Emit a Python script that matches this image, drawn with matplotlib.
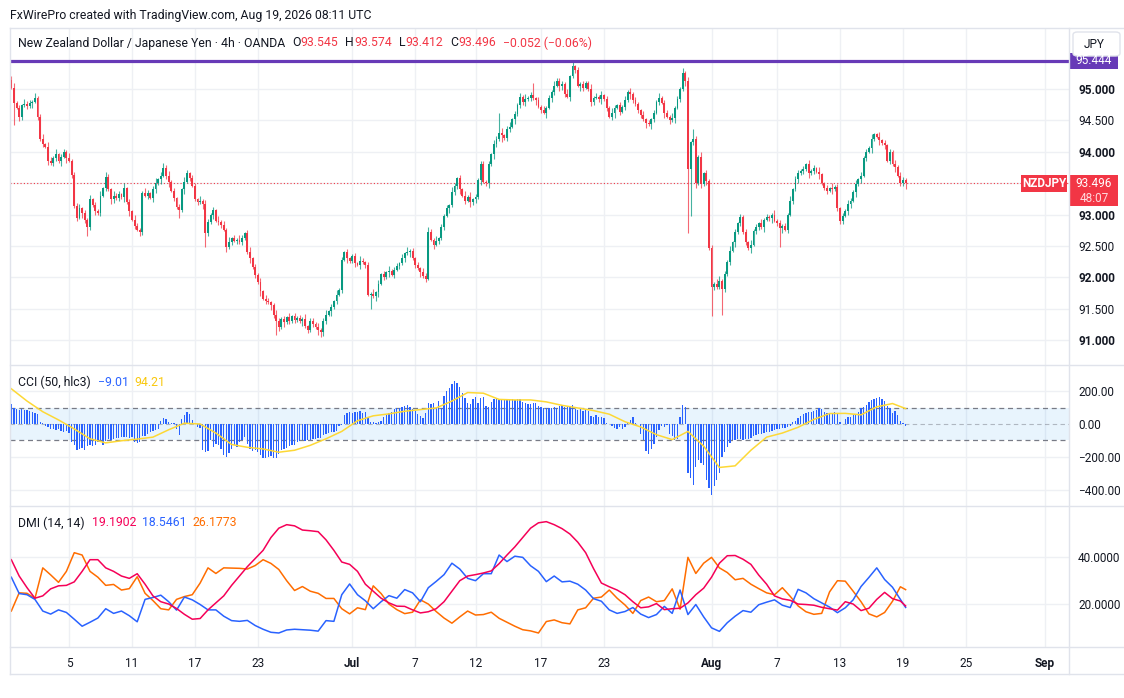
import matplotlib.pyplot as plt
from matplotlib.patches import Rectangle, FancyBboxPatch
from matplotlib.lines import Line2D
import numpy as np
import pandas as pd

W, H = 1124, 698

# ---- price data (4h candles, NZDJPY OANDA) ----
first_open = 95.15
closes = [
    95.02, 94.78, 94.70, 94.56, 94.74, 94.76, 94.73, 94.77, 94.80, 94.86,
    94.55, 94.20, 94.12, 94.08, 93.86, 93.82, 93.90, 93.96, 93.85, 93.92,
    94.00, 93.90, 93.86, 93.63, 93.13, 92.95, 93.10, 93.02, 92.92, 92.80,
    93.24, 93.15, 93.06, 93.02, 93.30, 93.42, 93.60, 93.40, 93.24, 93.30,
    93.26, 93.32, 93.28, 93.42, 93.20, 93.05, 92.92, 92.82, 92.76, 92.72,
    93.35, 93.30, 93.34, 93.27, 93.40, 93.50, 93.56, 93.62, 93.74, 93.62,
    93.52, 93.38, 93.26, 93.12, 93.07, 93.40, 93.52, 93.66, 93.58, 93.46,
    93.24, 93.20, 93.22, 93.16, 92.70, 92.88, 93.00, 93.07, 92.90, 92.88,
    92.84, 92.76, 92.48, 92.56, 92.62, 92.58, 92.60, 92.56, 92.62, 92.70,
    92.40, 92.30, 92.16, 92.04, 91.92, 91.78, 91.66, 91.62, 91.60, 91.56,
    91.40, 91.30, 91.20, 91.34, 91.28, 91.36, 91.30, 91.38, 91.32, 91.35,
    91.30, 91.34, 91.22, 91.16, 91.30, 91.26, 91.20, 91.16, 91.12, 91.30,
    91.40, 91.46, 91.52, 91.62, 91.72, 91.80, 92.28, 92.40, 92.30, 92.26,
    92.34, 92.22, 92.20, 92.26, 92.24, 92.20, 91.72, 91.74, 91.70, 91.76,
    91.90, 92.05, 92.00, 92.08, 92.10, 92.04, 92.12, 92.18, 92.22, 92.30,
    92.38, 92.40, 92.42, 92.30, 92.20, 92.14, 92.08, 92.02, 91.98, 92.72,
    92.60, 92.52, 92.58, 92.62, 92.80, 92.98, 93.10, 93.15, 93.36, 93.46,
    93.58, 93.40, 93.30, 93.22, 93.28, 93.20, 93.24, 93.28, 93.55, 93.80,
    93.52, 93.50, 93.80, 93.96, 94.12, 94.20, 94.30, 94.26, 94.22, 94.36,
    94.40, 94.52, 94.60, 94.75, 94.88, 94.80, 94.84, 94.86, 94.90, 94.85,
    94.82, 94.72, 94.66, 94.62, 94.70, 94.85, 94.96, 95.05, 95.12, 95.04,
    95.08, 94.92, 94.88, 95.20, 95.36, 95.30, 95.05, 95.08, 95.02, 95.10,
    95.00, 94.80, 94.86, 94.88, 94.84, 94.90, 94.84, 94.70, 94.56, 94.62,
    94.70, 94.74, 94.64, 94.72, 94.82, 94.96, 94.92, 94.82, 94.76, 94.66,
    94.58, 94.52, 94.46, 94.44, 94.52, 94.62, 94.80, 94.86, 94.78, 94.62,
    94.56, 94.50, 94.54, 94.70, 94.84, 95.00, 95.26, 95.12, 93.72, 94.15,
    94.20, 93.50, 93.92, 93.48, 93.66, 93.54, 92.46, 91.84, 91.90, 91.84,
    91.94, 91.82, 92.05, 92.25, 92.42, 92.56, 92.72, 92.86, 92.96, 92.72,
    92.56, 92.46, 92.52, 92.74, 92.80, 92.86, 92.80, 92.92, 92.96, 92.94,
    93.00, 92.90, 92.86, 92.78, 92.82, 92.76, 93.00, 93.22, 93.40, 93.56,
    93.66, 93.70, 93.72, 93.80, 93.66, 93.70, 93.74, 93.68, 93.64, 93.50,
    93.42, 93.38, 93.42, 93.40, 93.44, 93.10, 92.90, 92.98, 93.06, 93.16,
    93.22, 93.36, 93.48, 93.56, 93.62, 93.90, 94.00, 94.06, 94.20, 94.28,
    94.24, 94.18, 94.14, 94.10, 93.86, 94.00, 93.80, 93.76, 93.62, 93.50,
    93.545, 93.496,
]
# wick lengths beyond the body, one digit per candle (unit 0.025)
wick_up = (
    "2312132213 1231321412 2131223121 3121312213 2213121321 "
    "1321231212 3121213212 2131321213 1213121321 2312131221 "
    "1321213121 2131221312 3121312121 1213212131 2121312213 "
    "1312121321 2131212132 1213131212 2121321312 3121213121 "
    "1213121312 2131212121 1312131213 2121312121 1312121312 "
    "2131212131 1213121213 3121312121 2131213121 1312121312 "
    "2121312131 1213121213 2131212131 1312121312 2121312131"
).replace(" ", "")
wick_dn = (
    "1213212131 2121312213 1312121321 2131212132 1213131212 "
    "2121321312 3121213121 1213121312 2131212121 1312131213 "
    "2121312121 1312121312 2131212131 1213121213 3121312121 "
    "2131213121 1312121312 2312132213 1231321412 2131223121 "
    "3121312213 2213121321 1321231212 3121213212 2131321213 "
    "1213121321 2312131221 1321213121 2131221312 3121312121 "
    "2121312131 1213121213 2131212131 1312121312 2121312131"
).replace(" ", "")
big_highs = {17: 94.05, 36: 93.68, 58: 93.82, 159: 92.80, 186: 94.62, 199: 95.10,
             208: 95.18, 214: 95.444, 256: 95.33, 260: 94.36, 341: 93.574}
big_lows = {1: 94.43, 29: 92.65, 49: 92.66, 64: 92.94, 74: 92.49, 82: 92.40,
            101: 91.08, 118: 91.05, 137: 91.50, 258: 92.71, 259: 92.97,
            267: 91.39, 271: 91.40, 293: 92.48, 316: 92.85, 341: 93.412}
resistance = 95.444
last_price = 93.496

# ---- CCI (50, hlc3) ----
cci = [
    125, 95, 92, 88, 90, 85, 88, 80, 75, 68,
    60, 15, 5, -10, -18, -30, -28, -35, -30, -40,
    -50, -45, -55, -110, -130, -160, -150, -145, -160, -135,
    -130, -135, -128, -110, -100, -125, -105, -92, -95, -90,
    -88, -85, -82, -80, -78, -85, -82, -110, -115, -112,
    -75, -70, -62, -50, -42, -38, -30, 20, 35, 30,
    15, 8, 5, -30, -65, 30, 55, 75, 60, 25,
    5, -20, -25, -160, -170, -165, -100, -140, -120, -130,
    -150, -190, -200, -175, -150, -125, -140, -110, -95, -80,
    -120, -150, -165, -160, -170, -190, -205, -210, -200, -195,
    -210, -205, -185, -160, -150, -145, -135, -130, -125, -110,
    -105, -100, -105, -98, -95, -92, -90, -88, -85, -65,
    -60, -55, -50, -48, -45, -15, -5, 55, 68, 72,
    70, 75, 72, 78, 70, 74, 40, 15, 10, 8,
    12, 20, 45, 55, 70, 72, 90, 95, 100, 105,
    110, 115, 105, 90, 80, 60, 50, 35, 65, 130,
    125, 130, 100, 140, 95, 170, 200, 220, 245, 260,
    250, 225, 190, 160, 130, 125, 150, 165, 130, 160,
    165, 110, 105, 135, 155, 150, 152, 148, 150, 155,
    145, 150, 148, 155, 150, 135, 130, 125, 120, 128,
    130, 110, 105, 100, 95, 100, 98, 102, 100, 110,
    115, 105, 112, 108, 118, 90, 85, 95, 80, 88,
    82, 50, 45, 55, 40, 45, 38, 5, -2, -15,
    -25, -30, -20, -28, -18, 15, 25, 40, 5, 2,
    -60, -95, -165, -185, -150, -120, -80, -35, -10, -20,
    -5, -60, -75, -95, -90, 45, 115, 105, -300, -330,
    -370, -260, -220, -240, -250, -340, -390, -430, -380, -340,
    -300, -200, -170, -140, -115, -100, -95, -90, -92, -95,
    -90, -92, -85, -70, -65, -60, -62, -55, -50, -48,
    -40, -35, -30, -32, -25, -22, -18, -15, 10, 20,
    35, 50, 60, 68, 72, 75, 80, 88, 95, 92,
    72, 68, 70, 65, 72, 70, 10, 2, 30, 40,
    45, 55, 60, 75, 95, 105, 115, 135, 145, 150,
    160, 165, 155, 140, 110, 95, 70, 80, 55, 20,
    8, -9.01,
]
# CCI smoothing line, read every 6 bars plus the last bar
cci_ma = [
    215, 140, 75, 25, -30, -90, -115, -102, -92, -80,
    -35, 5, 0, -55, -125, -142, -152, -172, -160, -130,
    -90, -45, 20, 50, 62, 78, 88, 98, 140, 192,
    188, 150, 147, 147, 135, 114, 98, 82, 60, 14,
    -18, -65, -95, -45, -135, -265, -255, -160, -80, -55,
    -20, 28, 64, 65, 56, 105, 125, 94.21,
]

# ---- DMI (14, 14), read every 3 bars plus the last bar ----
adx = [
    39, 32, 27, 22.5, 23.5, 26.5, 27.8, 28, 29.5, 34,
    39, 39, 35.5, 34, 32, 31, 33, 28.5, 23.5, 21,
    20, 18.1, 15.6, 13.5, 13.8, 17.5, 20.5, 23.5, 28, 32,
    36, 39.5, 43, 48.5, 52.5, 54, 53.5, 51.7, 51.4, 51,
    47.5, 43, 38, 37, 34, 28.5, 25.5, 22.5, 20.5, 19.1,
    19, 17.5, 16.2, 16.7, 18, 21, 25.5, 30, 32, 32.6,
    33.3, 34.2, 37.3, 41, 44.5, 48.5, 52.5, 54.8, 55.3, 54,
    52.3, 50, 46.5, 42, 35.2, 29, 27.4, 26, 24, 21,
    18.4, 18.8, 20.2, 17.6, 18, 18.2, 20.5, 24, 26.8, 31.5,
    37.5, 40.7, 40.8, 39.2, 37, 32.4, 28.5, 23.5, 22.2, 21.6,
    20, 19.8, 19.5, 18.6, 18, 17.4, 21, 20, 17.2, 18.2,
    22, 25, 22.3, 21.3, 19.1902,
]
plus_di = [
    31.5, 24.5, 24, 22, 17, 15.7, 17.5, 16.4, 13.5, 10.5,
    12.2, 14, 18, 16, 17, 15, 12.4, 22, 22.8, 23.8,
    21, 17.4, 23, 21.8, 19.8, 17.5, 17.5, 14.8, 12.9, 12.6,
    13, 10.8, 9.2, 7.9, 7.6, 8.9, 9.2, 9, 8.8, 8.4,
    12.9, 12.6, 24, 28.6, 24, 21.4, 18, 21, 23.6, 22.5,
    26.2, 24.8, 21, 27, 29.7, 32.6, 37.5, 35, 31, 30,
    33, 33, 41, 38.2, 40.5, 40, 36.4, 34, 29.6, 32,
    29.5, 29.8, 28.5, 26, 22.3, 21.2, 17.5, 16, 16.8, 18.5,
    15.7, 14.2, 15.5, 19, 16, 26, 15.5, 19.8, 14.5, 9.8,
    8.3, 12, 14.8, 17.2, 16.5, 19.7, 20.8, 21.8, 19.5, 18.5,
    26.3, 24.8, 22.3, 20.5, 18.7, 16.3, 18.4, 21.8, 27.5, 31.4,
    35.5, 30.5, 27.2, 22, 18.5461,
]
minus_di = [
    17, 24.8, 24.6, 22.4, 35.5, 32.5, 29.3, 34, 42, 41,
    34, 31.5, 28, 28.4, 26, 26.6, 31.7, 24.6, 21.5, 18,
    17.5, 22, 23.2, 24, 29, 35.5, 33.1, 35.5, 35.4, 35.3,
    35, 36.5, 39, 37.4, 34.8, 30, 25.8, 27.5, 25.5, 24.6,
    22.4, 22.4, 18, 15.8, 18.4, 17.6, 27.8, 24.5, 20, 17.6,
    15.9, 16.5, 21.8, 20, 16.8, 14, 11.8, 14.5, 17, 15.3,
    15.5, 16.5, 13.9, 12.2, 10.5, 9, 8.5, 7.6, 12.5, 13.2,
    12, 11.5, 17.5, 18.4, 22.5, 23, 26, 22.5, 19.6, 16,
    21.5, 23, 21, 21.5, 26.5, 17.8, 40, 33.1, 37.5, 40,
    35.5, 33.5, 30.4, 31, 28.5, 26.6, 24.8, 24, 27, 23.3,
    19.2, 16.7, 15.6, 16, 25.2, 30, 29.8, 25.5, 21, 15.8,
    14.5, 16.4, 21.2, 27.4, 26.1773,
]

tick_dates = ["2026-06-05", "2026-06-11", "2026-06-17", "2026-06-23", "2026-07-01",
              "2026-07-07", "2026-07-12", "2026-07-17", "2026-07-23", "2026-08-01",
              "2026-08-07", "2026-08-13", "2026-08-19", "2026-08-25", "2026-09-01"]
tick_labels = ["5", "11", "17", "23", "Jul", "7", "12", "17", "23", "Aug",
               "7", "13", "19", "25", "Sep"]

# ---- colours ----
UP, DOWN = "#089981", "#F23645"
DARK = "#131722"
GRID = "#EEF0F4"
BORDER = "#E0E3EB"

plt.rcParams["font.family"] = ["Roboto", "DejaVu Sans"]

# 4h bar timeline (forex week: Sun 21:00 -> Fri 17:00)
times = pd.date_range("2026-06-01 09:00", "2026-09-02 21:00", freq="4h")
dow = times.dayofweek
keep = ~((dow == 5) | ((dow == 4) & (times.hour >= 21)) | ((dow == 6) & (times.hour < 21)))
times = times[keep]
n = len(closes)
xs = np.arange(n)
tick_pos = [int(np.searchsorted(times, pd.Timestamp(d))) for d in tick_dates]

opens = np.array([first_open] + closes[:-1])
cl = np.array(closes)
highs = np.maximum(opens, cl) + np.array([int(c) for c in wick_up[:n]]) * 0.025
lows = np.minimum(opens, cl) - np.array([int(c) for c in wick_dn[:n]]) * 0.025
for i, v in big_highs.items():
    highs[i] = max(v, opens[i], cl[i])
for i, v in big_lows.items():
    lows[i] = min(v, opens[i], cl[i])

ind_bars = list(range(0, n - 2, 3)) + [n - 1]
ma_bars = list(range(0, n - 5, 6)) + [n - 1]

fig = plt.figure(figsize=(W / 100, H / 100), dpi=100)
fig.patch.set_facecolor("white")


def fx(x):
    return x / W


def fy(y):
    return 1 - y / H


def pane(y0, y1):
    ax = fig.add_axes([fx(10), fy(y1), (1069 - 10) / W, (y1 - y0) / H])
    for s in ax.spines.values():
        s.set_visible(False)
    ax.set_xlim(-0.5, 403.3)
    ax.set_xticks(tick_pos)
    ax.grid(True, axis="x", color=GRID, lw=1)
    ax.yaxis.tick_right()
    ax.tick_params(length=0, labelsize=8.5, labelcolor=DARK, pad=6.5)
    ax.set_axisbelow(True)
    return ax


# ---- main price pane ----
ax = pane(28, 365)
ax.set_ylim(90.602, 95.972)
ax.set_yticks(np.arange(91.0, 95.01, 0.5))
ax.set_yticklabels([f"{v:.3f}" for v in np.arange(91.0, 95.01, 0.5)])
for lab, v in zip(ax.get_yticklabels(), np.arange(91.0, 95.01, 0.5)):
    if abs(v - round(v)) < 1e-6:
        lab.set_fontweight("bold")
ax.grid(True, axis="y", color=GRID, lw=1)
ax.tick_params(axis="x", labelbottom=False)
colors = np.where(cl >= opens, UP, DOWN)
ax.vlines(xs, lows, highs, colors=colors, lw=0.8, alpha=0.75, zorder=2)
body = np.where(np.abs(cl - opens) < 0.008, 0.008, cl - opens)
ax.bar(xs, body, bottom=opens, width=0.72, color=colors, lw=0, zorder=3)
ax.axhline(last_price, color=DOWN, lw=0.8, ls=(0, (1, 2)), zorder=1)
ax.axhline(resistance, color="#673AB7", lw=2.3, zorder=4)

# ---- CCI pane ----
ax2 = pane(365, 506)
ax2.set_ylim(-500, 360)
ax2.set_yticks([200, 0, -200, -400])
ax2.set_yticklabels(["200.00", "0.00", "\u2212200.00", "\u2212400.00"])
for v in (200, -200, -400):
    ax2.axhline(v, color=GRID, lw=1, zorder=0)
ax2.tick_params(axis="x", labelbottom=False)
ax2.axhspan(-100, 100, color="#2196F3", alpha=0.1, lw=0, zorder=1)
ax2.axhline(100, color="#787B86", lw=0.9, ls=(0, (4, 3)), zorder=2)
ax2.axhline(-100, color="#787B86", lw=0.9, ls=(0, (4, 3)), zorder=2)
ax2.axhline(0, color="#787B86", lw=0.8, ls=(0, (4, 3)), alpha=0.5, zorder=2)
ax2.bar(xs, cci, width=0.5, color="#2962FF", lw=0, zorder=3)
ax2.plot(ma_bars, cci_ma, color="#FDD835", lw=1.1, zorder=4)

# ---- DMI pane ----
ax3 = pane(506, 647)
ax3.set_ylim(1.6, 62.0)
ax3.set_yticks([40, 20])
ax3.set_yticklabels(["40.0000", "20.0000"])
ax3.grid(True, axis="y", color=GRID, lw=1)
ax3.set_xticklabels(tick_labels)
ax3.tick_params(axis="x", pad=7.5, labelsize=8.5)
for lab, t in zip(ax3.get_xticklabels(), tick_labels):
    if not t.isdigit():
        lab.set_fontweight("bold")
ax3.plot(ind_bars, minus_di, color="#FF6D00", lw=1.1, zorder=3)
ax3.plot(ind_bars, plus_di, color="#2962FF", lw=1.1, zorder=3)
ax3.plot(ind_bars, adx, color="#F50057", lw=1.1, zorder=4)

# ---- frame lines ----
for y in (28, 365, 506, 647, 674):
    fig.add_artist(Line2D([fx(10), 1], [fy(y), fy(y)], color=BORDER, lw=1))
for x in (10, 1069):
    fig.add_artist(Line2D([fx(x), fx(x)], [fy(28), fy(674)], color=BORDER, lw=1))

# ---- text rows ----
renderer = fig.canvas.get_renderer()


def text_row(x, y, parts, size=8.8):
    for s, color, gap in parts:
        t = fig.text(fx(x), fy(y), s, color=color, fontsize=size, va="center", ha="left")
        x += t.get_window_extent(renderer=renderer).width + gap


fig.text(fx(10), fy(15), "FxWirePro created with TradingView.com, Aug 19, 2026 08:11 UTC",
         color=DARK, fontsize=8.8, va="center")
text_row(18, 43, [("New Zealand Dollar / Japanese Yen \u00b7 4h \u00b7 OANDA", DARK, 7),
                  ("O", DARK, 0), ("93.545", DOWN, 7), ("H", DARK, 0), ("93.574", DOWN, 7),
                  ("L", DARK, 0), ("93.412", DOWN, 7), ("C", DARK, 0), ("93.496", DOWN, 7),
                  ("\u22120.052 (\u22120.06%)", DOWN, 0)])
text_row(18, 382, [("CCI (50, hlc3)", DARK, 7), ("\u22129.01", "#2962FF", 6),
                   ("94.21", "#F9C80E", 0)])
text_row(18, 523, [("DMI (14, 14)", DARK, 7), ("19.1902", "#F50057", 6),
                   ("18.5461", "#2962FF", 6), ("26.1773", "#FF6D00", 0)])

# ---- price-scale labels ----
fig.add_artist(Rectangle((fx(1070), fy(69)), 48 / W, 16 / H, transform=fig.transFigure,
                         color="#673AB7", lw=0))
fig.text(fx(1094), fy(61), "95.444", color="white", fontsize=8.5, ha="center", va="center")
fig.add_artist(FancyBboxPatch((fx(1073), fy(56)), 47 / W, 24 / H, transform=fig.transFigure,
                              boxstyle="round,pad=0,rounding_size=0.004",
                              fc="white", ec=BORDER, lw=1))
fig.text(fx(1084), fy(44), "JPY", color=DARK, fontsize=8.5, va="center")
fig.add_artist(Rectangle((fx(1021), fy(192)), 46 / W, 17 / H, transform=fig.transFigure,
                         color=DOWN, lw=0))
fig.text(fx(1044), fy(183.5), "NZDJPY", color="white", fontsize=8.5, ha="center",
         va="center", fontweight="bold")
fig.add_artist(Rectangle((fx(1070), fy(206)), 48 / W, 31 / H, transform=fig.transFigure,
                         color=DOWN, lw=0))
fig.text(fx(1094), fy(183.5), "93.496", color="white", fontsize=8.5, ha="center", va="center")
fig.text(fx(1094), fy(198), "48:07", color="#FFD9DD", fontsize=8.5, ha="center", va="center")

fig.savefig("out.png", dpi=100, facecolor="white")
